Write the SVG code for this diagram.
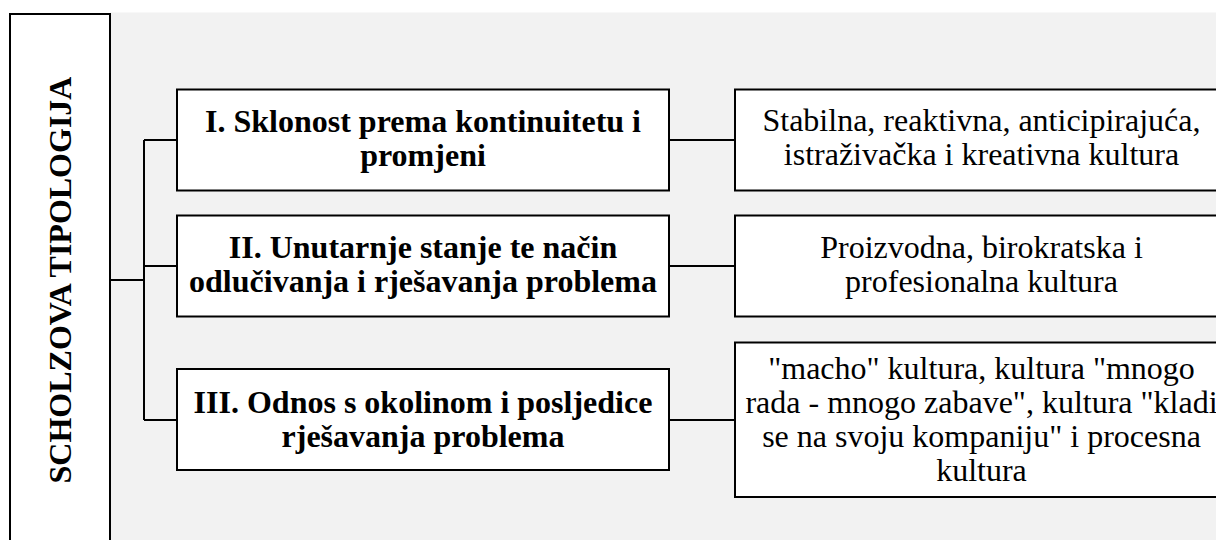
<svg xmlns="http://www.w3.org/2000/svg" width="1216" height="540" viewBox="0 0 1216 540">
<style>
.box{fill:#fff;stroke:#000;stroke-width:2}
.conn{fill:none;stroke:#000;stroke-width:2}
text{font-family:'Liberation Serif','Times New Roman',serif;font-size:32px;fill:#000;text-anchor:middle}
.b{font-weight:bold}
</style>
<rect x="0" y="0" width="1216" height="540" fill="#fff"/>
<rect x="110" y="12.5" width="1106" height="528" fill="#f2f2f2"/>
<g id="root">
<rect class="box" x="10" y="14" width="100" height="540"/>
<text class="b" transform="translate(71,280) rotate(-90)" x="0" y="0">SCHOLZOVA TIPOLOGIJA</text>
</g>
<g id="connectors">
<path class="conn" d="M110 280H144M144 140V420M144 140H177M144 266H177M144 420H177M669 140H735M669 266H735M669 420H735"/>
</g>
<g id="n1">
<rect class="box" x="177" y="89.5" width="492" height="101"/>
<text class="b" x="423" y="132">I. Sklonost prema kontinuitetu i</text>
<text class="b" x="423" y="166">promjeni</text>
</g>
<g id="n2">
<rect class="box" x="177" y="215.5" width="492" height="101"/>
<text class="b" x="423" y="258">II. Unutarnje stanje te način</text>
<text class="b" x="423" y="292">odlučivanja i rješavanja problema</text>
</g>
<g id="n3">
<rect class="box" x="177" y="369" width="492" height="101"/>
<text class="b" x="423" y="413">III. Odnos s okolinom i posljedice</text>
<text class="b" x="423" y="447">rješavanja problema</text>
</g>
<g id="r1">
<rect class="box" x="735" y="89.5" width="493" height="101"/>
<text x="981.5" y="131">Stabilna, reaktivna, anticipirajuća,</text>
<text x="981.5" y="165">istraživačka i kreativna kultura</text>
</g>
<g id="r2">
<rect class="box" x="735" y="215.5" width="493" height="101"/>
<text x="981.5" y="258">Proizvodna, birokratska i</text>
<text x="981.5" y="292">profesionalna kultura</text>
</g>
<g id="r3">
<rect class="box" x="735" y="342.5" width="493" height="154.5"/>
<text x="981.5" y="379">"macho" kultura, kultura "mnogo</text>
<text x="981.5" y="413">rada - mnogo zabave", kultura "kladi</text>
<text x="981.5" y="447">se na svoju kompaniju" i procesna</text>
<text x="981.5" y="481">kultura</text>
</g>
</svg>
